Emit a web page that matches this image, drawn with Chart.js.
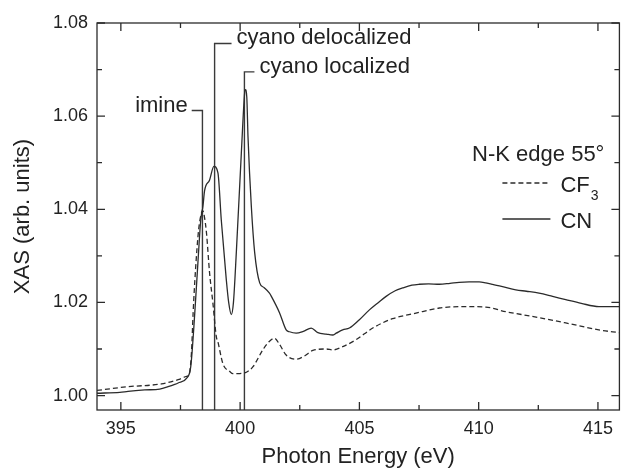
<!DOCTYPE html>
<html>
<head>
<meta charset="utf-8">
<script src="https://cdn.jsdelivr.net/npm/chart.js@4"></script>
<style>
  html, body { margin: 0; padding: 0; background: #fff; }
  canvas { display: block; }
</style>
</head>
<body>
<canvas id="xas" width="621" height="471"></canvas>
<script>
// XAS N-K edge 55°, CF3 vs CN
const cnEnergy = [394.0, 394.96, 395.3, 396.0, 396.63, 396.98, 397.26, 397.4, 397.75, 397.93, 398.1, 398.23, 398.35, 398.44,
  398.51, 398.72, 398.9, 399.07, 399.21, 399.42, 399.52, 399.63, 399.72, 399.84, 400.05, 400.19, 400.22, 400.28,
  400.33, 400.47, 400.61, 400.82, 401.0, 401.23, 401.31, 401.65, 401.93, 402.07, 402.35, 402.65, 402.98, 403.26,
  403.61, 403.88, 404.03, 404.3, 404.58, 405.0, 405.42, 405.8, 406.12, 406.5, 406.81, 407.2, 407.51, 407.9,
  408.35, 408.8, 409.18, 409.6, 410.02, 410.3, 410.58, 411.0, 411.56, 412.0, 412.53, 413.1, 413.65, 414.3,
  415.04, 415.9];
const cnXas = [1.0005, 1.0007, 1.0009, 1.0012, 1.0014, 1.0019, 1.0024, 1.0027, 1.0037, 1.0062, 1.0178, 1.0285, 1.0377, 1.0406,
  1.0440, 1.0463, 1.0492, 1.0478, 1.0377, 1.0249, 1.0200, 1.0174, 1.0200, 1.0307, 1.0520, 1.0650, 1.0657, 1.0640,
  1.0556, 1.0406, 1.0307, 1.0242, 1.0232, 1.0220, 1.0213, 1.0178, 1.0141, 1.0137, 1.0134, 1.0138, 1.0145, 1.0135,
  1.0132, 1.0130, 1.0134, 1.0141, 1.0145, 1.0163, 1.0184, 1.0200, 1.0213, 1.0225, 1.0231, 1.0237, 1.0239, 1.0240,
  1.0239, 1.0241, 1.0243, 1.0244, 1.0244, 1.0242, 1.0239, 1.0234, 1.0227, 1.0224, 1.0220, 1.0213, 1.0206, 1.0198,
  1.0191, 1.0191];

const cf3Energy = [394.0, 395.29, 396.7, 397.4, 397.75, 397.86, 397.96, 398.03, 398.13, 398.26, 398.38, 398.43, 398.5,
  398.59, 398.72, 398.86, 399.0, 399.07, 399.28, 399.56, 399.7, 399.91, 400.12, 400.26, 400.54, 400.95, 401.2,
  401.44, 401.65, 401.93, 402.35, 402.7, 403.05, 403.61, 403.88, 404.3, 404.86, 405.56, 406.39, 407.37, 408.35,
  409.46, 410.3, 411.14, 412.25, 413.65, 415.04, 415.9];
const cf3Xas = [1.0011, 1.0019, 1.0025, 1.0034, 1.0041, 1.0045, 1.0092, 1.0178, 1.0270, 1.0356, 1.0392, 1.0397, 1.0385,
  1.0349, 1.0263, 1.0198, 1.0127, 1.0115, 1.0068, 1.0052, 1.0047, 1.0047, 1.0048, 1.0050, 1.0062, 1.0098, 1.0115,
  1.0123, 1.0110, 1.0087, 1.0078, 1.0085, 1.0097, 1.0100, 1.0098, 1.0105, 1.0120, 1.0145, 1.0165, 1.0177, 1.0188,
  1.0191, 1.0190, 1.0180, 1.0170, 1.0156, 1.0141, 1.0135];

const xTicks = [395, 400, 405, 410, 415];
const xMinorTicks = [397.5, 402.5, 407.5, 412.5];
const yTicks = [1.00, 1.02, 1.04, 1.06, 1.08];
const yMinorTicks = [1.01, 1.03, 1.05, 1.07];

// peak assignments: label, vertical line energy, bracket height, end of the little arm
const markerNames = ['imine', 'cyano delocalized', 'cyano localized'];
const markerEnergy = [398.42, 398.93, 400.18];
const markerTop = [1.0612, 1.0756, 1.0695];
const markerArmEnd = [397.97, 399.64, 400.60];

const X_MIN = 394.0, X_MAX = 415.9, Y_MIN = 0.9969, Y_MAX = 1.08;
const INK = '#2b2b2b';
const FONT = '"Liberation Sans", Arial, sans-serif';

const zip = (xs, ys) => xs.map((v, i) => ({ x: v, y: ys[i] }));

const markerSets = markerNames.map((name, i) => ({
  label: name,
  data: [
    { x: markerArmEnd[i], y: markerTop[i] },
    { x: markerEnergy[i], y: markerTop[i] },
    { x: markerEnergy[i], y: Y_MIN }
  ],
  borderColor: '#3a3a3a',
  borderWidth: 1.4,
  pointRadius: 0,
  tension: 0
}));

// frame, inward ticks, peak labels and the legend box
const decorPlugin = {
  id: 'decor',
  afterDatasetsDraw(chart) {
    const { ctx, chartArea: a, scales: { x, y } } = chart;
    ctx.save();
    ctx.strokeStyle = INK;
    ctx.lineWidth = 1.3;
    ctx.strokeRect(a.left, a.top, a.right - a.left, a.bottom - a.top);

    const xTick = (v, len) => {
      const px = x.getPixelForValue(v);
      ctx.beginPath();
      ctx.moveTo(px, a.bottom); ctx.lineTo(px, a.bottom - len);
      ctx.moveTo(px, a.top); ctx.lineTo(px, a.top + len);
      ctx.stroke();
    };
    const yTick = (v, len) => {
      const py = y.getPixelForValue(v);
      ctx.beginPath();
      ctx.moveTo(a.left, py); ctx.lineTo(a.left + len, py);
      ctx.moveTo(a.right, py); ctx.lineTo(a.right - len, py);
      ctx.stroke();
    };
    xTicks.forEach(v => xTick(v, 8));
    xMinorTicks.forEach(v => xTick(v, 5));
    yTicks.forEach(v => yTick(v, 8));
    yMinorTicks.forEach(v => yTick(v, 5));

    ctx.fillStyle = '#222';
    ctx.font = '22px ' + FONT;
    ctx.textBaseline = 'alphabetic';
    markerNames.forEach((name, i) => {
      const px = x.getPixelForValue(markerArmEnd[i]);
      const py = y.getPixelForValue(markerTop[i]) + 1;
      if (markerArmEnd[i] < markerEnergy[i]) {
        ctx.textAlign = 'right';
        ctx.fillText(name, px - 4, py);
      } else {
        ctx.textAlign = 'left';
        ctx.fillText(name, px + 5, py);
      }
    });

    // legend
    const lx0 = a.right - 117, lx1 = a.right - 69, tx = a.right - 59;
    ctx.textAlign = 'right';
    ctx.fillText('N-K edge 55°', a.right - 15, a.top + 138);
    ctx.textAlign = 'left';
    ctx.lineWidth = 1.3;
    ctx.setLineDash([5, 3]);
    ctx.beginPath(); ctx.moveTo(lx0, a.top + 160); ctx.lineTo(lx1, a.top + 160); ctx.stroke();
    ctx.setLineDash([]);
    ctx.fillText('CF', tx, a.top + 169);
    const cfw = ctx.measureText('CF').width;
    ctx.font = '14px ' + FONT;
    ctx.fillText('3', tx + cfw + 1, a.top + 177);
    ctx.font = '22px ' + FONT;
    ctx.beginPath(); ctx.moveTo(lx0, a.top + 196); ctx.lineTo(lx1, a.top + 196); ctx.stroke();
    ctx.fillText('CN', tx, a.top + 205);
    ctx.restore();
  }
};

new Chart(document.getElementById('xas'), {
  type: 'line',
  data: {
    datasets: [
      {
        label: 'CF3',
        data: zip(cf3Energy, cf3Xas),
        borderColor: INK,
        borderWidth: 1.3,
        borderDash: [5, 3],
        pointRadius: 0,
        cubicInterpolationMode: 'monotone'
      },
      {
        label: 'CN',
        data: zip(cnEnergy, cnXas),
        borderColor: INK,
        borderWidth: 1.3,
        pointRadius: 0,
        cubicInterpolationMode: 'monotone'
      },
      ...markerSets
    ]
  },
  options: {
    responsive: false,
    animation: false,
    layout: { padding: { top: 23, right: 1, left: 0, bottom: 0 } },
    plugins: { legend: { display: false }, tooltip: { enabled: false } },
    scales: {
      x: {
        type: 'linear',
        min: X_MIN,
        max: X_MAX,
        afterBuildTicks: s => { s.ticks = xTicks.map(v => ({ value: v })); },
        afterFit: s => { s.height = 61; },
        grid: { display: false, drawTicks: false },
        border: { display: false },
        ticks: { color: '#222', padding: 8, maxRotation: 0, font: { family: FONT, size: 18 } },
        title: {
          display: true,
          text: 'Photon Energy (eV)',
          color: '#222',
          padding: { top: 0, bottom: 1 },
          font: { family: FONT, size: 22 }
        }
      },
      y: {
        type: 'linear',
        min: Y_MIN,
        max: Y_MAX,
        afterBuildTicks: s => { s.ticks = yTicks.map(v => ({ value: v })); },
        afterFit: s => { s.width = 97; },
        grid: { display: false, drawTicks: false },
        border: { display: false },
        ticks: {
          color: '#222',
          padding: 9,
          font: { family: FONT, size: 18 },
          callback: v => v.toFixed(2)
        },
        title: {
          display: true,
          text: 'XAS (arb. units)',
          color: '#222',
          padding: { top: 10, bottom: 0 },
          font: { family: FONT, size: 22 }
        }
      }
    }
  },
  plugins: [decorPlugin]
});
</script>
</body>
</html>
